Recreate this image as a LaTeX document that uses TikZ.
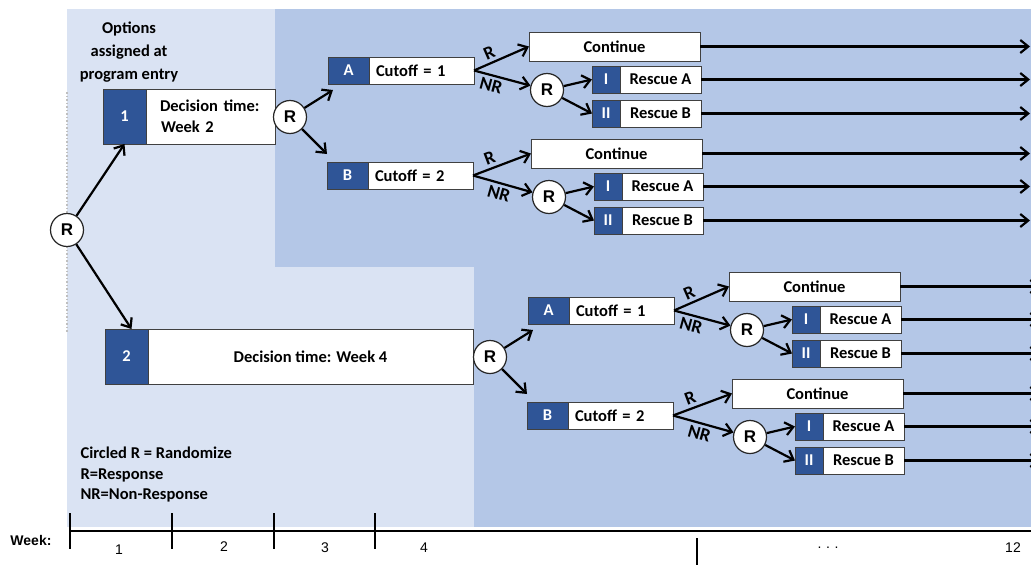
\documentclass[tikz,border=0pt]{standalone}
\usepackage{fontspec}
\setmainfont{Carlito}
\newfontfamily\arialfont{Liberation Sans}
\usepackage{tikz}
\usetikzlibrary{calc}
\usetikzlibrary{arrows.meta}
\usetikzlibrary{positioning}
\definecolor{paleblue}{HTML}{DAE3F3}
\definecolor{midblue}{HTML}{B4C7E7}
\definecolor{boxblue}{HTML}{2F5597}
\tikzset{tag/.style={draw=black!75,line width=1pt,fill=boxblue,text=white,inner sep=0pt,outer sep=0pt,anchor=north west}}
\tikzset{lab/.style={draw=black!75,line width=1pt,fill=white,inner sep=0pt,outer sep=0pt,anchor=west}}
\tikzset{rnd/.style={circle,draw=black!85,line width=1.2pt,fill=white,minimum size=33pt,inner sep=0pt,font=\arialfont\fontsize{17}{19}\selectfont\bfseries}}
\tikzset{arr/.style={-{Straight Barb[length=8pt,width=13pt]},line width=2.2pt}}
\tikzset{resp/.style={font=\fontsize{18.5}{20}\selectfont\bfseries,inner sep=3pt}}

\begin{document}
\begin{tikzpicture}[x=1pt,y=-1pt,font=\fontsize{16.5}{20}\selectfont\bfseries]
\useasboundingbox (0,0) rectangle (1031,565);
\clip (0,0) rectangle (1031,565);

% time bands
\fill[paleblue] (67,9) rectangle (1031,527);
\fill[midblue] (275,9) rectangle (1031,267);
\fill[midblue] (474,267) rectangle (1031,527);
\draw[gray!50,dotted,line width=1.5pt] (67,92) -- (67,332);

\node[align=center,font=\fontsize{16.5}{23}\selectfont\bfseries] (opt) at (129,52) {Options\\assigned at\\program entry};

\node[rnd] (R0) at (67,230) {R};

% option 1 and 2
\node[tag,minimum width=43,minimum height=55] (D1) at (103,89) {1};
\node[lab,minimum height=55,text width=115,inner xsep=7,align=left,font=\fontsize{16.5}{21}\selectfont\bfseries] (W1) at (D1.east) {\hspace*{7pt}Decision time:\\\hspace*{8pt}Week 2};
\node[rnd] (R1) at (290,117) {R};

\node[tag,minimum width=43,minimum height=55] (D2) at (105,329) {2};
\node[lab,minimum width=325,minimum height=55] (W2) at (D2.east) {Decision time: Week 4};
\node[rnd] (R2) at (490,357) {R};

% cutoffs
\foreach \g/\t/\c/\x/\y in {1/A/1/328/57, 2/B/2/327/162, 3/A/1/528/297, 4/B/2/527/402}
  {
 \node[tag,minimum width=41,minimum height=27] (T\g) at (\x,\y) {\t};
 \node[lab,text width=91,inner xsep=7,minimum height=27,align=left] (K\g) at (T\g.east) {Cutoff = \c};
 }

\draw[arr] (R0) -- (D1.south);
\draw[arr] (R0) -- ($(D2.north)+(5,0)$);
\draw[arr] (R1) -- ($(T1.south west)+(5,6)$);
\draw[arr] (R1) -- ($(T2.north west)+(0,-8)$);
\draw[arr] (R2) -- ($(T3.south west)+(5,6)$);
\draw[arr] (R2) -- ($(T4.north west)+(0,-8)$);

% continue / rescue
\foreach \g/\x/\y/\e/\p in {1/529/32/1030/.35, 2/531/139/1030/.48, 3/729/272/1040/.35, 4/732/379/1040/.48}
  {
 \node[lab,anchor=north west,minimum width=171,minimum height=29] (C\g) at (\x,\y) {Continue};
 \node[rnd] (S\g) at (\x+18,\y+58) {R};
 \node[tag,minimum width=28,minimum height=27] (I\g) at (\x+63,\y+34) {I};
 \node[lab,minimum width=81,minimum height=27] (IL\g) at (I\g.east) {Rescue A};
 \node[tag,minimum width=28,minimum height=27] (II\g) at (\x+63,\y+68) {II};
 \node[lab,minimum width=81,minimum height=27] (IIL\g) at (II\g.east) {Rescue B};
 \coordinate (E\g) at (\e,0);
 \draw[arr] (K\g.east) -- node[resp,pos=.35,above,sloped] {R} (C\g.west);
 \draw[arr] (K\g.east) -- node[resp,pos=\p,below,sloped] {NR} (S\g);
 \draw[arr] (S\g) -- (I\g.west);
 \draw[arr] (S\g) -- (II\g.west);
 \foreach \b in {C\g,IL\g,IIL\g}
   \draw[arr] (\b.east) -- (\b.east -| E\g);
 }

\node[anchor=west,align=left,font=\fontsize{16.5}{20.5}\selectfont\bfseries] (key) at (77,475) {Circled R = Randomize\\R=Response\\NR=Non-Response};

% week axis
\draw[line width=2.5pt] (70,531) -- (1031,531);
\foreach \t in {70,172,274,375}
  \draw[line width=2.5pt] (\t,513) -- (\t,549);
\draw[line width=2.5pt] (697,538) -- (697,565);
\node[anchor=east,font=\arialfont\fontsize{14}{16}\selectfont\bfseries] (wk) at (55,540) {Week:};
\foreach \t/\n/\y [count=\i] in {119/1/550, 224/2/547, 325/3/548, 424/4/548, 828/{.\,\,.\,\,.}/548, 1013/12/548}
  \node[font=\arialfont\fontsize{14}{16}\selectfont] (wk\i) at (\t,\y) {\n};

\end{tikzpicture}
\end{document}
